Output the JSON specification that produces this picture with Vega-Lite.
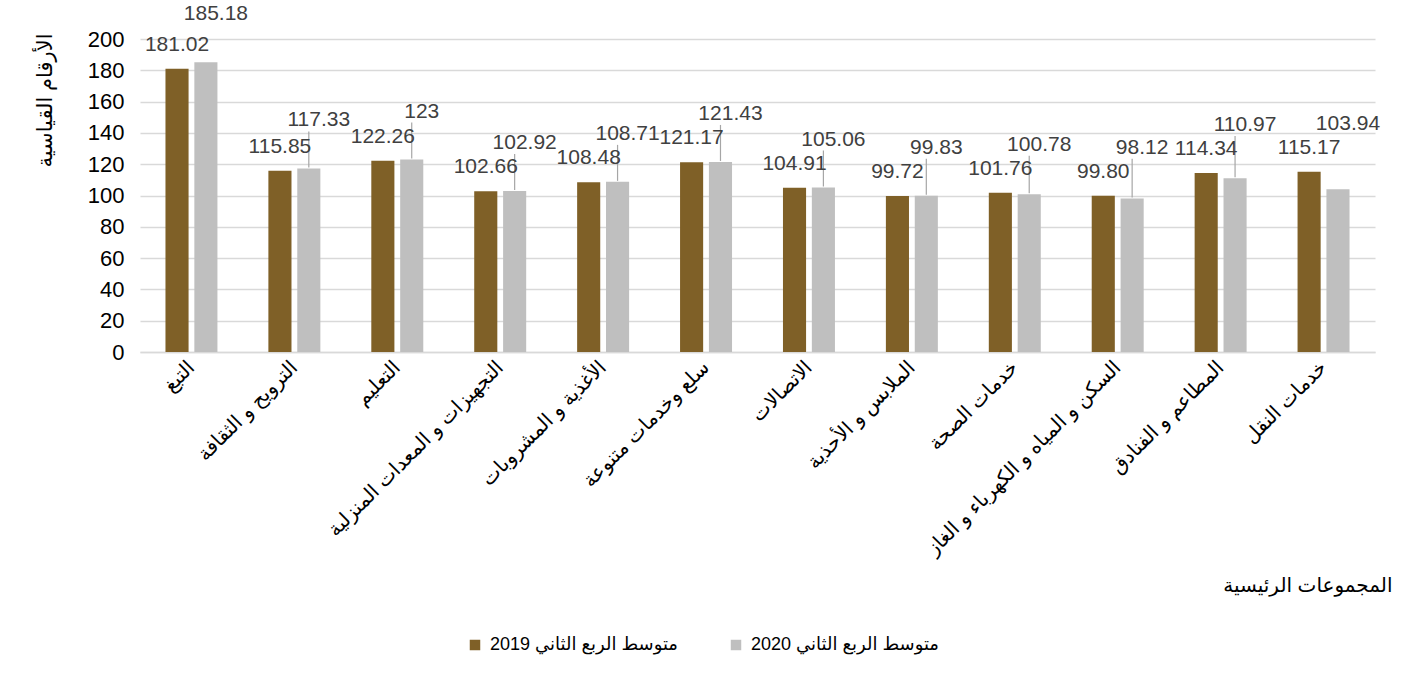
{
  "$schema": "https://vega.github.io/schema/vega-lite/v6.json",
  "width": 1235,
  "height": 313,
  "autosize": {"type": "none"},
  "padding": {"left": 140, "top": 39, "right": 38, "bottom": 328},
  "background": "white",
  "config": {"view": {"stroke": null}, "font": "Liberation Sans, DejaVu Sans"},
  "data": {
    "values": [
      {"cat": "التبغ", "period": "متوسط الربع الثاني 2019", "value": 181.02, "label": "181.02"},
      {"cat": "التبغ", "period": "متوسط الربع الثاني 2020", "value": 185.18, "label": "185.18"},
      {"cat": "الترويح و الثقافة", "period": "متوسط الربع الثاني 2019", "value": 115.85, "label": "115.85"},
      {"cat": "الترويح و الثقافة", "period": "متوسط الربع الثاني 2020", "value": 117.33, "label": "117.33"},
      {"cat": "التعليم", "period": "متوسط الربع الثاني 2019", "value": 122.26, "label": "122.26"},
      {"cat": "التعليم", "period": "متوسط الربع الثاني 2020", "value": 123, "label": "123"},
      {"cat": "التجهيزات و المعدات المنزلية", "period": "متوسط الربع الثاني 2019", "value": 102.66, "label": "102.66"},
      {"cat": "التجهيزات و المعدات المنزلية", "period": "متوسط الربع الثاني 2020", "value": 102.92, "label": "102.92"},
      {"cat": "الأغذية و المشروبات", "period": "متوسط الربع الثاني 2019", "value": 108.48, "label": "108.48"},
      {"cat": "الأغذية و المشروبات", "period": "متوسط الربع الثاني 2020", "value": 108.71, "label": "108.71"},
      {"cat": "سلع وخدمات متنوعة", "period": "متوسط الربع الثاني 2019", "value": 121.17, "label": "121.17"},
      {"cat": "سلع وخدمات متنوعة", "period": "متوسط الربع الثاني 2020", "value": 121.43, "label": "121.43"},
      {"cat": "الاتصالات", "period": "متوسط الربع الثاني 2019", "value": 104.91, "label": "104.91"},
      {"cat": "الاتصالات", "period": "متوسط الربع الثاني 2020", "value": 105.06, "label": "105.06"},
      {"cat": "الملابس و الأحذية", "period": "متوسط الربع الثاني 2019", "value": 99.72, "label": "99.72"},
      {"cat": "الملابس و الأحذية", "period": "متوسط الربع الثاني 2020", "value": 99.83, "label": "99.83"},
      {"cat": "خدمات الصحة", "period": "متوسط الربع الثاني 2019", "value": 101.76, "label": "101.76"},
      {"cat": "خدمات الصحة", "period": "متوسط الربع الثاني 2020", "value": 100.78, "label": "100.78"},
      {"cat": "السكن و المياه و الكهرباء و الغاز", "period": "متوسط الربع الثاني 2019", "value": 99.80, "label": "99.80"},
      {"cat": "السكن و المياه و الكهرباء و الغاز", "period": "متوسط الربع الثاني 2020", "value": 98.12, "label": "98.12"},
      {"cat": "المطاعم و الفنادق", "period": "متوسط الربع الثاني 2019", "value": 114.34, "label": "114.34"},
      {"cat": "المطاعم و الفنادق", "period": "متوسط الربع الثاني 2020", "value": 110.97, "label": "110.97"},
      {"cat": "خدمات النقل", "period": "متوسط الربع الثاني 2019", "value": 115.17, "label": "115.17"},
      {"cat": "خدمات النقل", "period": "متوسط الربع الثاني 2020", "value": 103.94, "label": "103.94"}
    ]
  },
  "encoding": {
    "x": {
      "field": "cat",
      "type": "nominal",
      "sort": null,
      "scale": {"paddingInner": 0.495, "paddingOuter": 0.2475},
      "axis": {
        "title": "المجموعات الرئيسية",
        "titleFontSize": 20,
        "titleFontWeight": "normal",
        "titleColor": "#000000",
        "titleX": 1252,
        "titleY": 233,
        "titleAlign": "right",
        "titleBaseline": "middle",
        "labelAngle": -45,
        "labelAlign": "right",
        "labelBaseline": "middle",
        "labelFontSize": 20,
        "labelColor": "#000000",
        "labelPadding": 12,
        "labelLimit": 0,
        "ticks": false,
        "domainColor": "#D9D9D9",
        "domainWidth": 1.5
      }
    },
    "xOffset": {"field": "period", "type": "nominal", "sort": null, "scale": {"paddingInner": 0.2}},
    "y": {
      "field": "value",
      "type": "quantitative",
      "scale": {"domain": [0, 200]},
      "axis": {
        "values": [0, 20, 40, 60, 80, 100, 120, 140, 160, 180, 200],
        "title": "الأرقام القياسية",
        "titleFontSize": 21,
        "titleFontWeight": "normal",
        "titleColor": "#000000",
        "titleAngle": -90,
        "titleX": -95,
        "titleY": -6,
        "titleAlign": "right",
        "titleBaseline": "middle",
        "labelFontSize": 22,
        "labelColor": "#000000",
        "labelPadding": 16,
        "domain": false,
        "ticks": false,
        "gridColor": "#D9D9D9",
        "gridWidth": 1.3
      }
    }
  },
  "layer": [
    {
      "mark": {"type": "bar"},
      "encoding": {
        "color": {
          "field": "period",
          "type": "nominal",
          "sort": null,
          "scale": {"range": ["#7F6027", "#BFBFBF"]},
          "legend": {
            "title": null,
            "orient": "none",
            "direction": "horizontal",
            "legendX": 326,
            "legendY": 597,
            "symbolType": "square",
            "symbolSize": 110,
            "symbolStrokeWidth": 0,
            "labelFontSize": 18,
            "labelColor": "#000000",
            "labelOffset": 6,
            "labelLimit": 0,
            "columnPadding": 48,
            "labelExpr": "'\u202B' + datum.label + '\u202C'"
          }
        }
      }
    },
    {
      "transform": [
        {"joinaggregate": [{"op": "max", "field": "value", "as": "groupMax"}], "groupby": ["cat"]},
        {"filter": "indexof(datum.period, '2020') >= 0 && datum.cat != 'التبغ' && datum.cat != 'خدمات النقل'"}
      ],
      "mark": {"type": "rule", "color": "#A6A6A6", "strokeWidth": 1.2, "yOffset": -1, "y2Offset": -37},
      "encoding": {
        "y": {"field": "value", "type": "quantitative"},
        "y2": {"field": "groupMax"}
      }
    },
    {
      "transform": [{"filter": "indexof(datum.period, '2019') >= 0"}],
      "mark": {"type": "text", "fontSize": 21, "color": "#404040", "baseline": "middle", "dy": -24},
      "encoding": {"text": {"field": "label"}}
    },
    {
      "transform": [
        {"joinaggregate": [{"op": "max", "field": "value", "as": "groupMax"}], "groupby": ["cat"]},
        {"filter": "indexof(datum.period, '2020') >= 0"}
      ],
      "mark": {"type": "text", "fontSize": 21, "color": "#404040", "baseline": "middle", "dy": -48, "dx": 10},
      "encoding": {
        "y": {"field": "groupMax", "type": "quantitative"},
        "text": {"field": "label"}
      }
    }
  ]
}
